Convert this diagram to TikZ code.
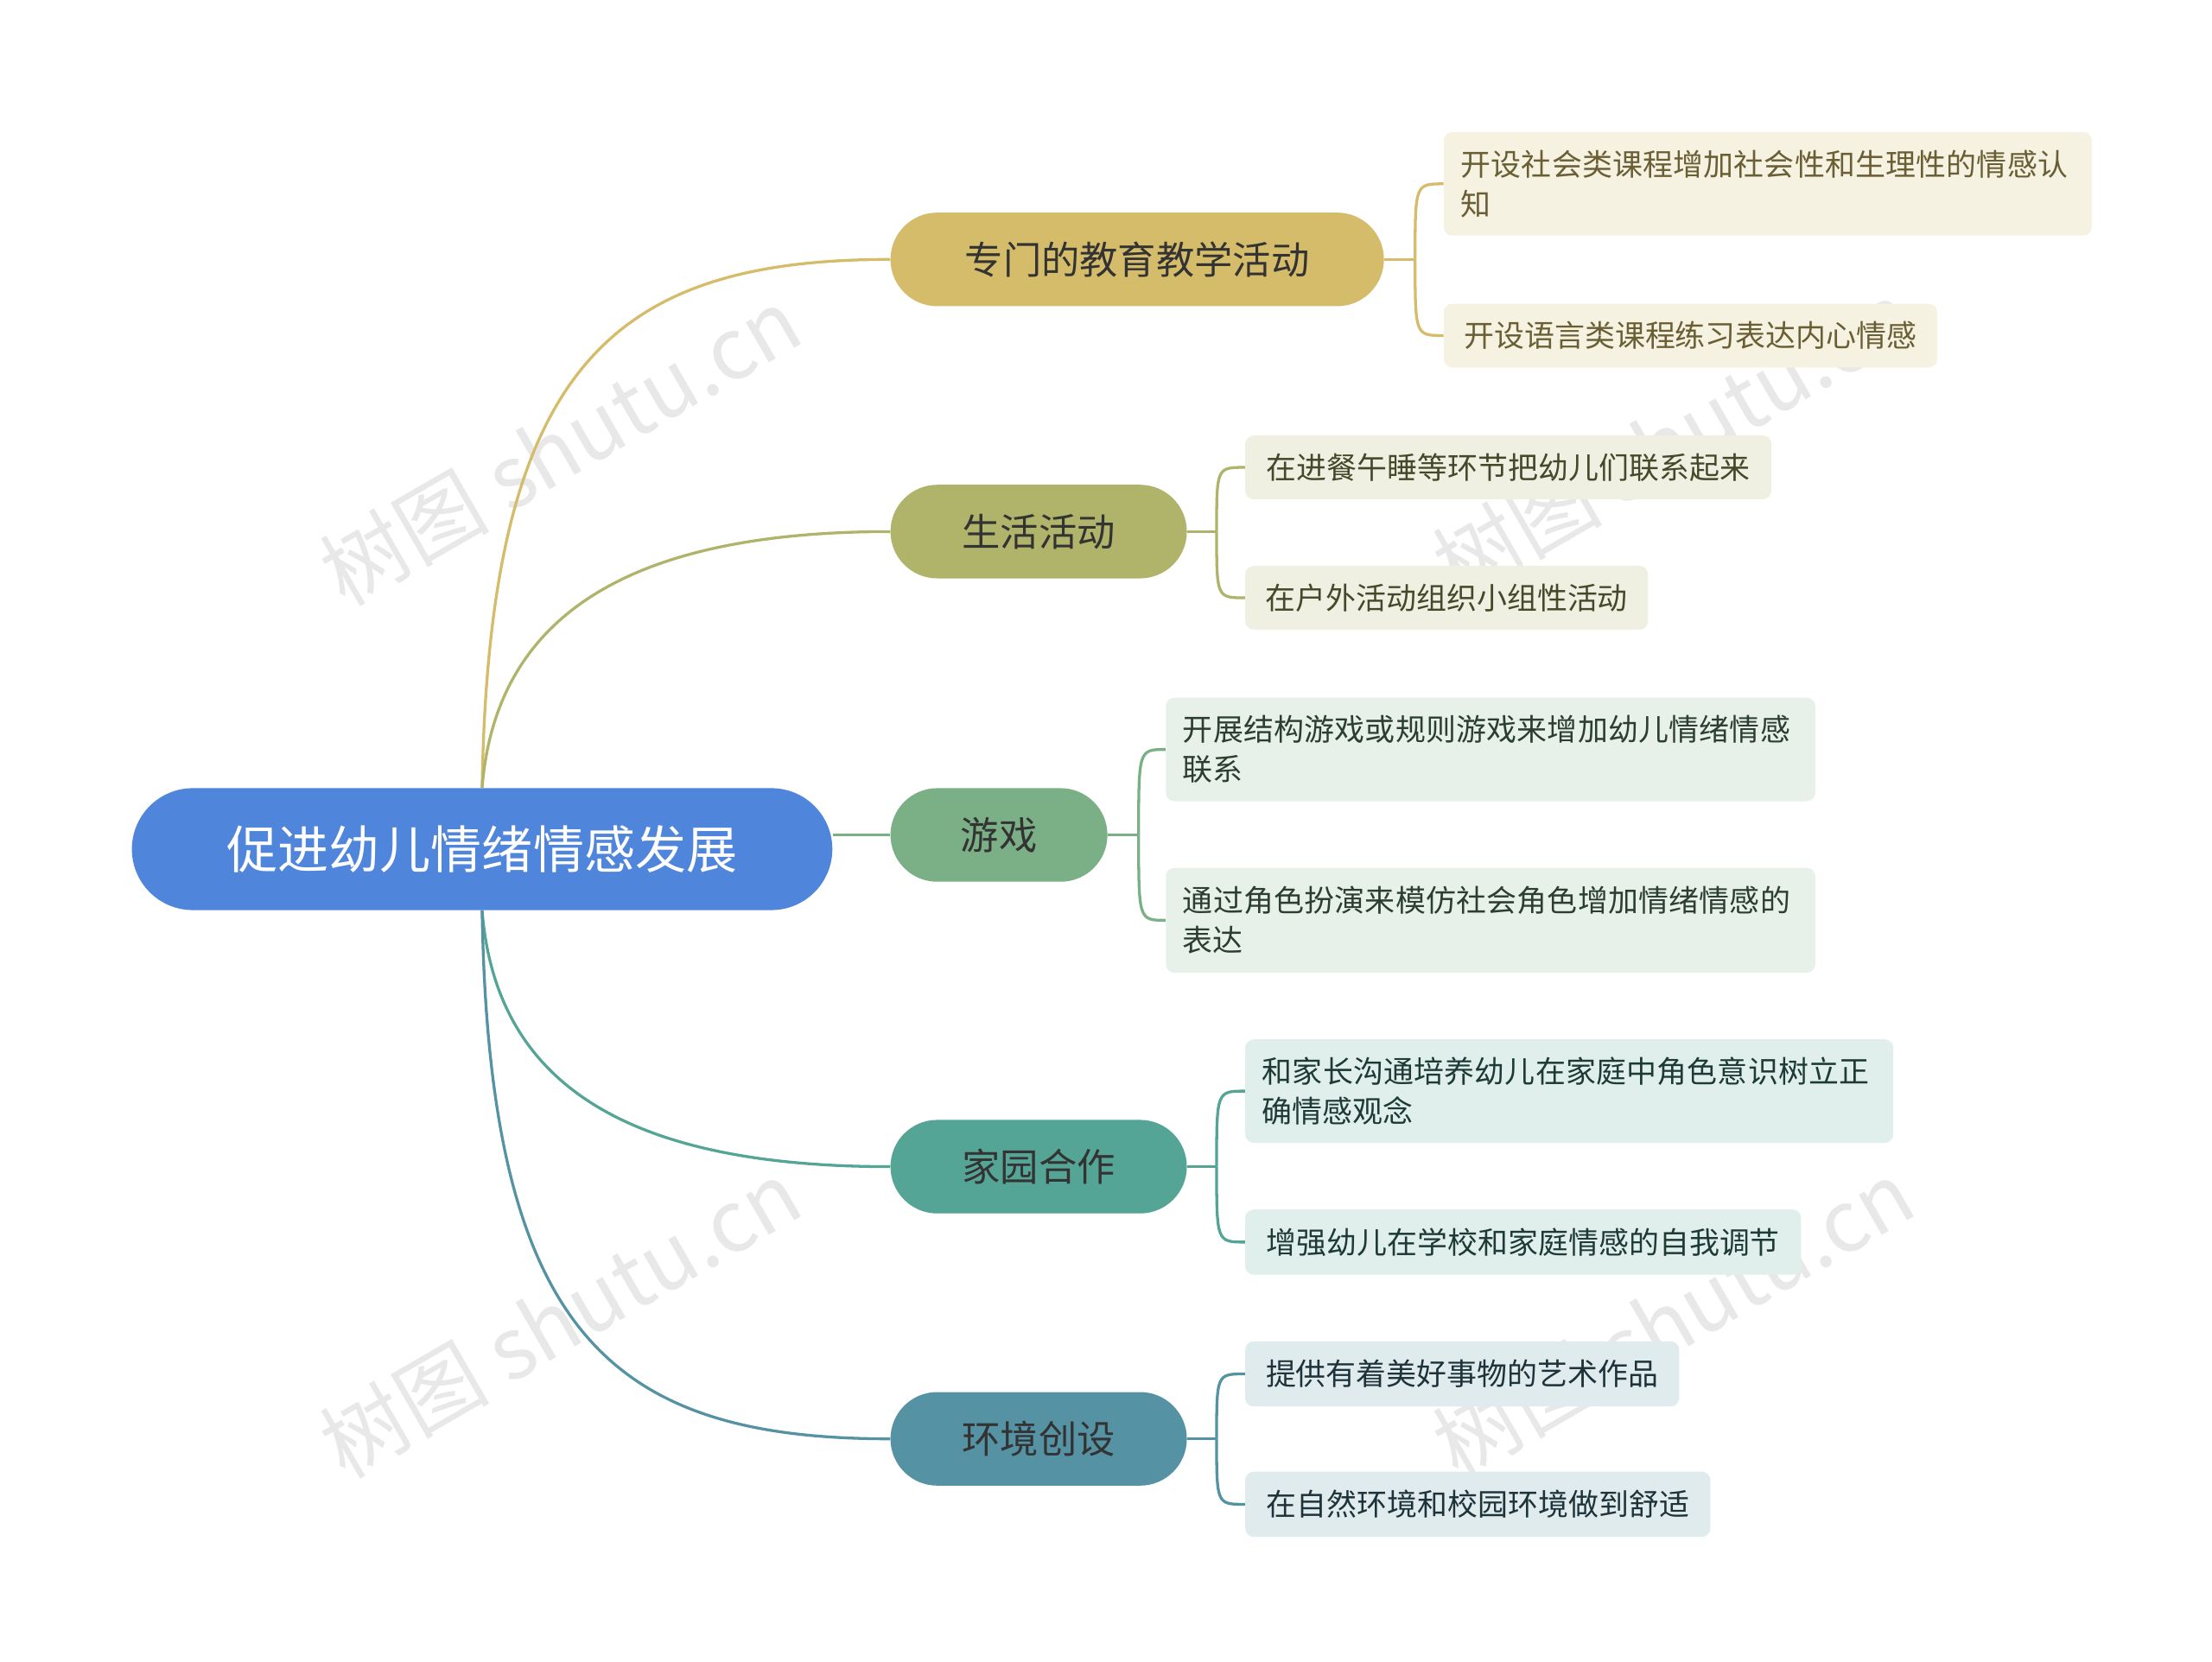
\documentclass[tikz,border=0pt]{standalone}
\usepackage{fontspec}
\setmainfont{Noto Sans CJK SC}
\newfontfamily\wmfont{Noto Sans CJK SC}
\XeTeXlinebreaklocale "zh"
\XeTeXlinebreakskip=0pt plus 1pt
\begin{document}
\begin{tikzpicture}[x=1pt,y=-1pt,
 br/.style={rounded corners=33pt,minimum height=66pt,inner sep=0pt,font=\fontsize{27}{30}\selectfont,text=black!80},
 lf/.style={anchor=north west,rounded corners=6pt,inner xsep=12pt,inner ysep=0pt,align=left,font=\fontsize{21.3}{28}\selectfont},
 ln/.style={line width=2pt},
 wm/.style={text=black!9,font=\fontsize{60}{60}\selectfont,rotate=30}]
\useasboundingbox (0,0) rectangle (1560,1172);
\fill[white] (0,0) rectangle (1560,1172);
\definecolor{c1}{HTML}{D4BC6A}\definecolor{c2}{HTML}{AFB46A}\definecolor{c3}{HTML}{7BB086}
\definecolor{c4}{HTML}{55A596}\definecolor{c5}{HTML}{5592A3}\definecolor{rt}{HTML}{4F86DB}
% watermarks
\node[wm] (w1) at (395,315) {树图 shutu.cn};
\node[wm] (w2) at (1180,310) {树图 shutu.cn};
\node[wm] (w3) at (395,930) {树图 shutu.cn};
\node[wm] (w4) at (1180,930) {树图 shutu.cn};
% root
\node[rounded corners=43pt,minimum width=494pt,minimum height=86pt,inner sep=0pt,fill=rt,text=white,font=\fontsize{36}{40}\selectfont] (r) at (340,599) {促进幼儿情绪情感发展};
\node[br,fill=c1,minimum width=348pt] (b1) at (802,183) {专门的教育教学活动};
\node[br,fill=c2,minimum width=209pt] (b2) at (732.5,375) {生活活动};
\node[br,fill=c3,minimum width=153pt] (b3) at (704.5,589) {游戏};
\node[br,fill=c4,minimum width=209pt] (b4) at (732.5,823) {家园合作};
\node[br,fill=c5,minimum width=209pt] (b5) at (732.5,1015) {环境创设};
% leaves
\node[lf,fill=c1!20,text=c1!50!black,minimum width=457pt,minimum height=73pt,text width=433pt] (l1a) at (1018,93) {开设社会类课程增加社会性和生理性的情感认知};
\node[lf,fill=c1!20,text=c1!50!black,minimum width=348pt,minimum height=45pt] (l1b) at (1018,214) {开设语言类课程练习表达内心情感};
\node[lf,fill=c2!20,text=c2!40!black,minimum width=371pt,minimum height=45pt] (l2a) at (878,307) {在进餐午睡等环节把幼儿们联系起来};
\node[lf,fill=c2!20,text=c2!40!black,minimum width=284pt,minimum height=45pt] (l2b) at (878,399) {在户外活动组织小组性活动};
\node[lf,fill=c3!18,text=c3!35!black,minimum width=458pt,minimum height=73pt,text width=434pt] (l3a) at (822,492) {开展结构游戏或规则游戏来增加幼儿情绪情感联系};
\node[lf,fill=c3!18,text=c3!35!black,minimum width=458pt,minimum height=74pt,text width=434pt] (l3b) at (822,612) {通过角色扮演来模仿社会角色增加情绪情感的表达};
\node[lf,fill=c4!18,text=c4!35!black,minimum width=457pt,minimum height=73pt,text width=433pt] (l4a) at (878,733) {和家长沟通培养幼儿在家庭中角色意识树立正确情感观念};
\node[lf,fill=c4!18,text=c4!35!black,minimum width=392pt,minimum height=46pt] (l4b) at (878,853) {增强幼儿在学校和家庭情感的自我调节};
\node[lf,fill=c5!18,text=c5!35!black,minimum width=306pt,minimum height=46pt] (l5a) at (878,946) {提供有着美好事物的艺术作品};
\node[lf,fill=c5!18,text=c5!35!black,minimum width=328pt,minimum height=46pt] (l5b) at (878,1038) {在自然环境和校园环境做到舒适};
% root connectors
\draw[ln,c1] (r.north) .. controls (345,260) and (430,183) .. (b1.west);
\draw[ln,c2] (r.north) .. controls (350,430) and (450,375) .. (b2.west);
\draw[ln,c3] (b3.west -| r.east) -- (b3.west);
\draw[ln,c4] (r.south) .. controls (350,770) and (450,823) .. (b4.west);
\draw[ln,c5] (r.south) .. controls (345,940) and (430,1015) .. (b5.west);
% brackets
\foreach \b/\x/\c/\la/\lb in {b1/998/c1/l1a/l1b,b2/858/c2/l2a/l2b,b3/803/c3/l3a/l3b,b4/858/c4/l4a/l4b,b5/858/c5/l5a/l5b}{
 \coordinate (k) at (\x,0);
 \draw[ln,\c] (\b.east) -- (\b.east -| k);
 \draw[ln,\c] (\b.east -| k) .. controls (\x,0 |- \la.west) .. (\la.west);
 \draw[ln,\c] (\b.east -| k) .. controls (\x,0 |- \lb.west) .. (\lb.west);
}
\end{tikzpicture}
\end{document}
